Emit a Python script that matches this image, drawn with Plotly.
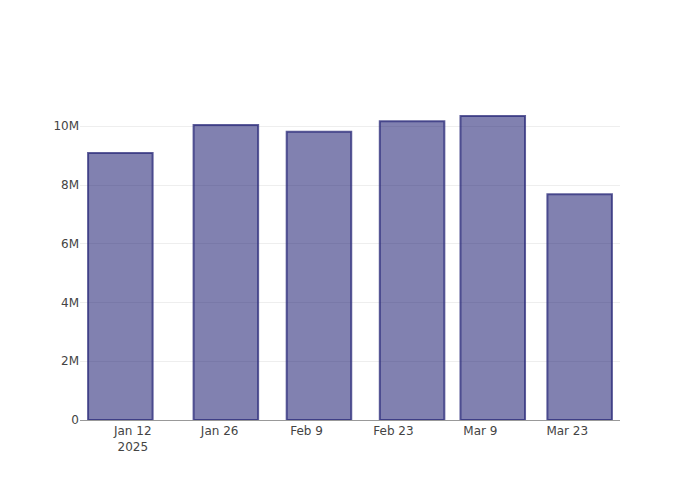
import plotly.graph_objects as go

dates = ["2025-01-10", "2025-01-27", "2025-02-11", "2025-02-26", "2025-03-11", "2025-03-25"]
values = [9.09e6, 10.04e6, 9.81e6, 10.17e6, 10.35e6, 7.69e6]

fig = go.Figure(go.Bar(
    x=dates, y=values,
    marker=dict(color="rgba(25,25,112,0.55)",
                line=dict(color="rgba(40,40,120,0.75)", width=2)),
))
fig.update_layout(
    template="plotly_white",
    font=dict(family="DejaVu Sans", color="#444", size=12),
    margin=dict(l=72, r=72, t=92, b=72),
    showlegend=False,
)
fig.update_xaxes(showgrid=False, showline=True, linecolor="#999", linewidth=1, ticks="",
                 dtick=14 * 86400000, tick0="2025-01-12", tickformat="%b %-d\n%Y")
fig.update_yaxes(gridcolor="#eeeeee", zeroline=False, ticks="")
fig.write_html("out.html")
